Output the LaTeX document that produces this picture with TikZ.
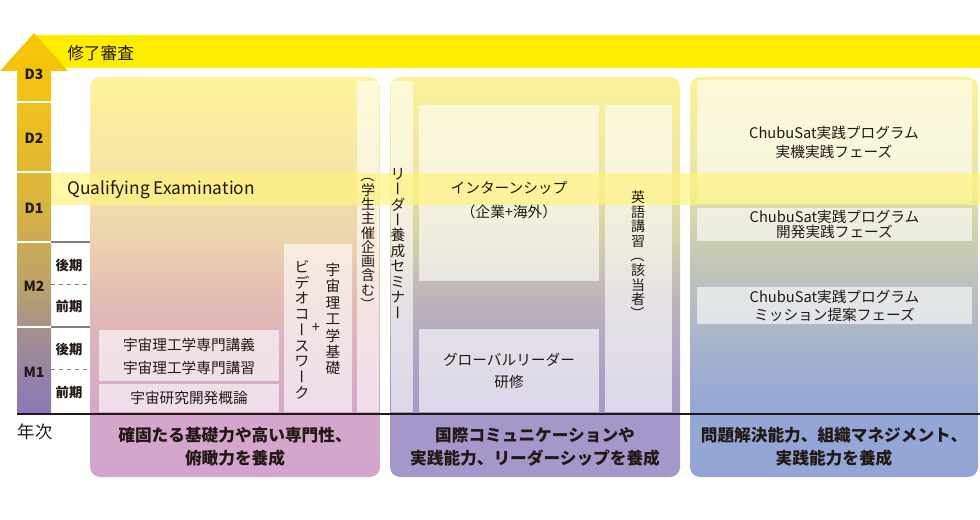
\documentclass[tikz,border=0pt]{standalone}
\usepackage{fontspec}
\setmainfont{Noto Sans CJK JP}
\usepackage{xcolor}
\usetikzlibrary{positioning,fit}
\definecolor{TopYellow}{HTML}{FFED00}
\definecolor{QualYellow}{HTML}{FFF380}
\definecolor{TextDark}{HTML}{231815}
\definecolor{TermGray}{HTML}{808080}
\newcommand{\vrot}[1]{\rotatebox[origin=c]{-90}{\makebox[1em]{\rule[-0.12em]{0pt}{1em}#1}}}

\pgfdeclareverticalshading{panelone}{100bp}{color(0bp)=(rgb,255:red,211;green,163;blue,203); color(32.9bp)=(rgb,255:red,212;green,166;blue,204); color(47bp)=(rgb,255:red,226;green,187;blue,181); color(54.6bp)=(rgb,255:red,236;green,211;blue,176); color(63.4bp)=(rgb,255:red,246;green,228;blue,166); color(75bp)=(rgb,255:red,255;green,243;blue,156); color(100bp)=(rgb,255:red,255;green,243;blue,156)}
\pgfdeclareverticalshading{paneltwo}{100bp}{color(0bp)=(rgb,255:red,162;green,149;blue,199); color(32.9bp)=(rgb,255:red,165;green,151;blue,201); color(47bp)=(rgb,255:red,188;green,178;blue,188); color(54.6bp)=(rgb,255:red,214;green,207;blue,170); color(63.4bp)=(rgb,255:red,238;green,230;blue,162); color(75bp)=(rgb,255:red,251;green,242;blue,156); color(100bp)=(rgb,255:red,251;green,242;blue,156)}
\pgfdeclareverticalshading{panelthree}{100bp}{color(0bp)=(rgb,255:red,148;green,165;blue,212); color(32.9bp)=(rgb,255:red,148;green,166;blue,214); color(42.1bp)=(rgb,255:red,168;green,180;blue,204); color(53.4bp)=(rgb,255:red,200;green,202;blue,180); color(63.4bp)=(rgb,255:red,234;green,230;blue,164); color(75bp)=(rgb,255:red,251;green,242;blue,156); color(100bp)=(rgb,255:red,251;green,242;blue,156)}
\pgfdeclareverticalshading{yeararrow}{100bp}{color(0bp)=(rgb,255:red,138;green,120;blue,184); color(25bp)=(rgb,255:red,138;green,120;blue,184); color(34.6bp)=(rgb,255:red,160;green,140;blue,148); color(41.8bp)=(rgb,255:red,188;green,162;blue,108); color(53bp)=(rgb,255:red,218;green,180;blue,62); color(66.2bp)=(rgb,255:red,239;green,194;blue,26); color(75bp)=(rgb,255:red,247;green,198;blue,0); color(100bp)=(rgb,255:red,247;green,198;blue,0)}

\begin{document}
\begin{tikzpicture}[x=0.75pt, y=-0.75pt,
        pane/.style={fill=white, fill opacity=0.62, inner sep=0pt},
        boxtext/.style={text=TextDark, align=center, inner sep=0pt, font=\fontsize{11}{17}\selectfont},
        vtext/.style={text=TextDark, align=center, inner sep=0pt, font=\fontsize{11}{11.6}\selectfont},
        headlbl/.style={text=TextDark, anchor=west, inner sep=0pt, font=\fontsize{12.5}{15}\selectfont},
        yearlbl/.style={text=TextDark, inner sep=0pt, font=\bfseries\fontsize{10.5}{12}\selectfont},
        termlbl/.style={text=TextDark, inner sep=0pt, font=\bfseries\fontsize{10}{12}\selectfont},
        goal/.style={text=TextDark, align=center, inner sep=0pt, font=\bfseries\fontsize{12.5}{17.25}\selectfont}
    ]
        \useasboundingbox (0,0) rectangle (980,520);
        % top bar and panels
        \fill [TopYellow] (33,35) rectangle (980,68);
        \shade [shading=panelone, rounded corners=7.5pt] (90,77) rectangle (380,477);
        \shade [shading=paneltwo, rounded corners=7.5pt] (390,77) rectangle (680,477);
        \shade [shading=panelthree, rounded corners=7.5pt] (690,77) rectangle (978,477);

        % year arrow
        \shade [shading=yeararrow] (17,413) -- (17,71) -- (0,71) -- (34,33) -- (68,71) -- (51,71) -- (51,413) -- cycle;
        \foreach \yy in {102.5,172,242,327} \draw [white, line width=1.5pt] (17,\yy) -- (51,\yy);
        \draw [TermGray, line width=1pt] (51,242) -- (90,242) (51,327) -- (90,327);
        \draw [TermGray, dashed, line width=0.5pt] (51,284) -- (90,284) (51,369) -- (90,369);

        % boxes
        \node [pane, fit={(99,330) (279,381)}] (lect) {};
        \node [pane, fit={(99,384) (279,412)}] (intro) {};
        \node [pane, fit={(284,244) (352,412)}] (video) {};
        \node [pane, fit={(357,81) (379,412)}] (stud) {};
        \node [pane, fit={(391,81) (413,412)}] (lead) {};
        \node [pane, fit={(419,105) (599,281)}] (intern) {};
        \node [pane, fit={(419,329) (599,412)}] (global) {};
        \node [pane, fit={(605,105) (672,412)}] (eng) {};
        \node [pane, fit={(697,80) (972,203)}] (flight) {};
        \node [pane, fit={(697,208) (972,241)}] (devel) {};
        \node [pane, fit={(697,287) (972,324)}] (mission) {};

        % qualifying band and base line
        \fill [QualYellow, fill opacity=0.7] (51,173) rectangle (980,205);
        \draw [TextDark, line width=1.5pt] (17,414) -- (980,414);

        % labels
        \node [headlbl] (review) at (67,53) {修了審査};
        \node [headlbl, font=\fontsize{13}{15}\selectfont] (qe) at (67,190) {Qualifying Examination};
        \node [yearlbl] (d3) at (34,74) {D3};
        \node [yearlbl] (d2) at (34,138) {D2};
        \node [yearlbl] (d1) at (34,208) {D1};
        \node [yearlbl] (m2) at (34,286) {M2};
        \node [yearlbl] (m1) at (34,372) {M1};
        \node [termlbl] (m2late) at (69,265) {後期};
        \node [termlbl] (m2early) at (69,306) {前期};
        \node [termlbl] (m1late) at (69,349) {後期};
        \node [termlbl] (m1early) at (69,392) {前期};
        \node [text=TextDark, inner sep=0pt, font=\fontsize{13}{15}\selectfont] (nenji) at (35,432) {年次};

        \node [boxtext] (lect-t) at (189,356.5) {宇宙理工学専門講義\\宇宙理工学専門講習};
        \node [boxtext] (intro-t) at (intro) {宇宙研究開発概論};
        \node [vtext, anchor=north, font=\fontsize{11}{12.3}\selectfont] (basic-t) at (333,263) {宇\\宙\\理\\工\\学\\基\\礎};
        \node [text=TextDark, inner sep=0pt, font=\fontsize{11}{13}\selectfont] (plus-t) at (316,328) {+};
        \node [vtext, anchor=north, font=\fontsize{11}{11.8}\selectfont] (course-t) at (302,260) {ビ\\デ\\オ\\コ\\\vrot{ー}\\ス\\ワ\\\vrot{ー}\\ク};
        \node [vtext, font=\fontsize{10.5}{10.7}\selectfont] (stud-t) at (368,240) {\vrot{（}\\学\\生\\主\\催\\企\\画\\含\\む\\\vrot{）}};
        \node [vtext] (lead-t) at (398,244) {リ\\\vrot{ー}\\ダ\\\vrot{ー}\\養\\成\\セ\\ミ\\ナ\\\vrot{ー}};
        \node [boxtext, font=\fontsize{11}{18}\selectfont] (intern-t) at (509,200) {インターンシップ\\（企業+海外）};
        \node [boxtext, font=\fontsize{11}{16.5}\selectfont] (global-t) at (global) {グローバルリーダー\\研修};
        \node [vtext, font=\fontsize{10.5}{10.9}\selectfont] (eng-t) at (638,256) {英\\語\\講\\習\\\vrot{（}\\該\\当\\者\\\vrot{）}};
        \node [boxtext, font=\fontsize{11}{14.3}\selectfont] (flight-t) at (834,142.5) {ChubuSat実践プログラム\\実機実践フェーズ};
        \node [boxtext, font=\fontsize{11}{11.5}\selectfont] (devel-t) at (devel) {ChubuSat実践プログラム\\開発実践フェーズ};
        \node [boxtext, font=\fontsize{11}{13.5}\selectfont] (mission-t) at (mission) {ChubuSat実践プログラム\\ミッション提案フェーズ};

        \node [goal] (goal1) at (235,446.5) {確固たる基礎力や高い専門性、\\俯瞰力を養成};
        \node [goal] (goal2) at (535,446.5) {国際コミュニケーションや\\実践能力、リーダーシップを養成};
        \node [goal] (goal3) at (834,446.5) {問題解決能力、組織マネジメント、\\実践能力を養成};
    \end{tikzpicture}
\end{document}
